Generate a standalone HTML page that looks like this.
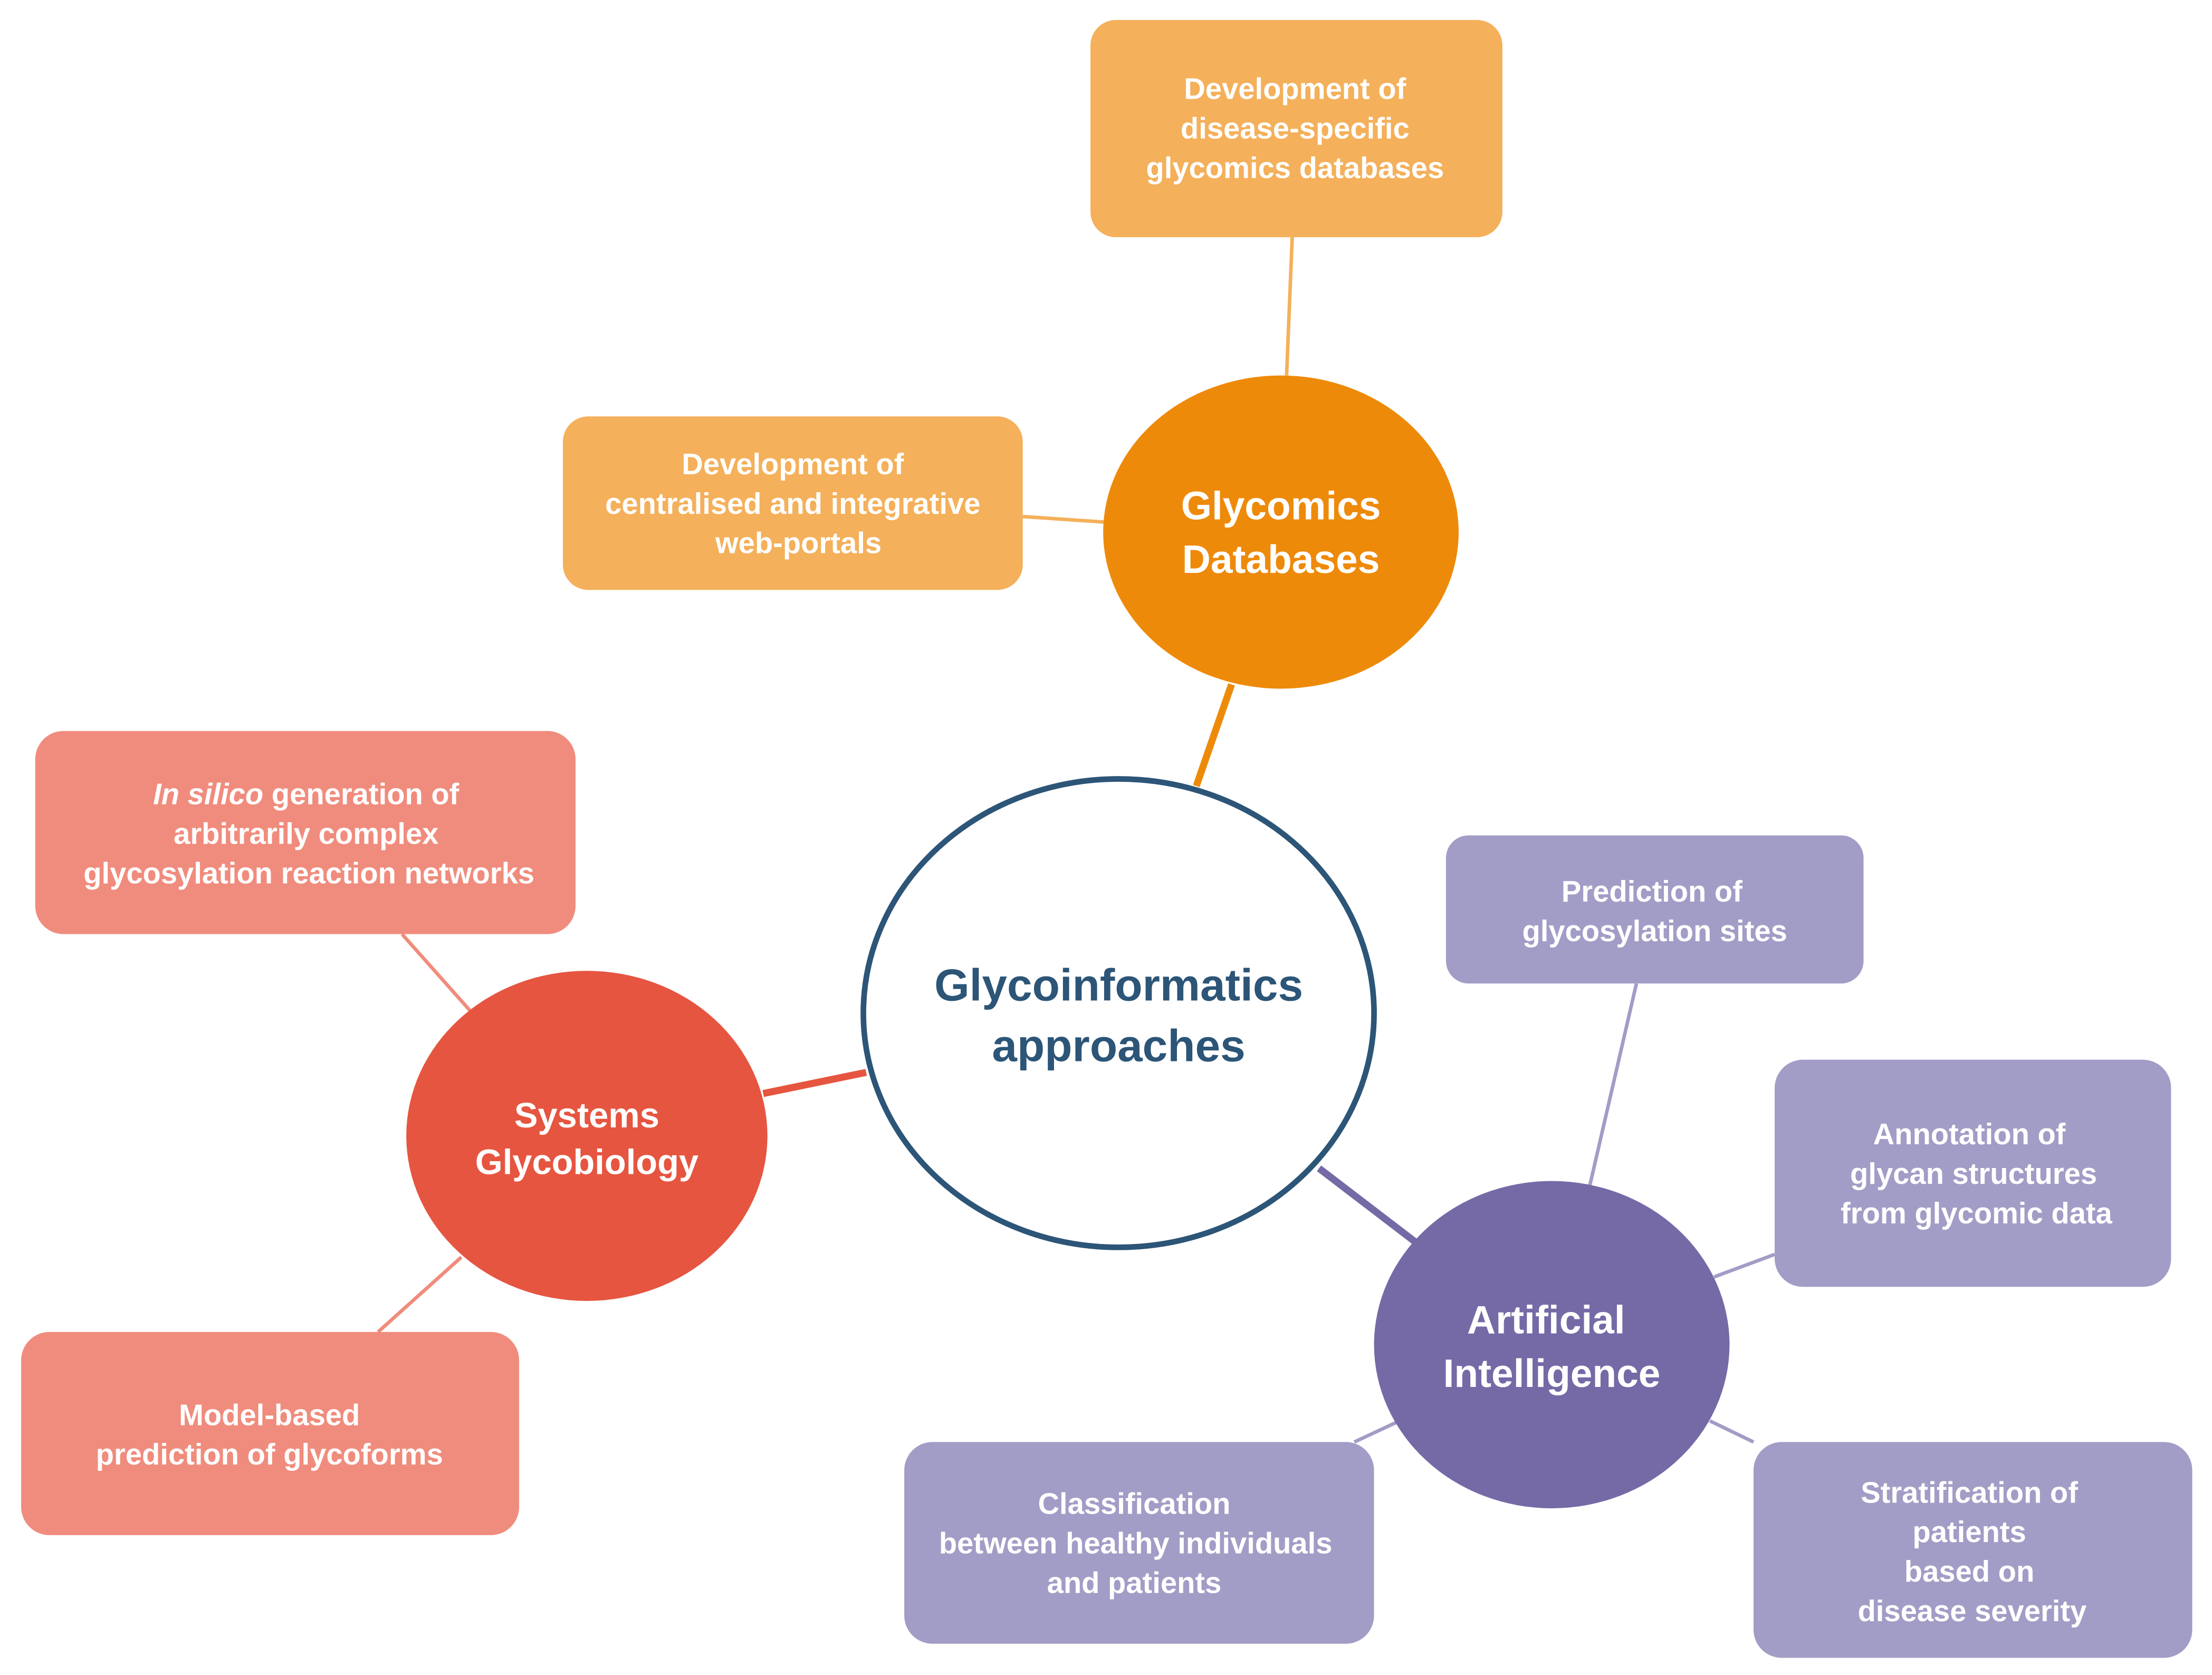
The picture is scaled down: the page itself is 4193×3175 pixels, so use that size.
<!DOCTYPE html>
<html><head><meta charset="utf-8"><style>
html,body{margin:0;padding:0;background:#fff;}
svg{display:block;}
text{font-family:"Liberation Sans",Arial,sans-serif;font-weight:bold;text-anchor:middle;fill:#fff;}
.s{font-size:21px;}
</style></head><body>
<svg width="4193" height="3175" viewBox="0 0 1568 1187" xmlns="http://www.w3.org/2000/svg">
<rect width="1568" height="1187" fill="#fff"/>
<!-- connectors -->
<g stroke-linecap="butt">
<line x1="916" y1="168" x2="912" y2="266" stroke="#F4B05A" stroke-width="2.5"/>
<line x1="725" y1="366" x2="784" y2="370" stroke="#F4B05A" stroke-width="2.5"/>
<line x1="873" y1="485" x2="848" y2="557" stroke="#EE8A0A" stroke-width="5"/>
<line x1="541" y1="775" x2="614" y2="760" stroke="#E65540" stroke-width="5"/>
<line x1="285" y1="662" x2="333" y2="716" stroke="#F08C7D" stroke-width="2.5"/>
<line x1="268" y1="944" x2="327" y2="891" stroke="#F08C7D" stroke-width="2.5"/>
<line x1="935" y1="828" x2="1003" y2="880" stroke="#756AA6" stroke-width="5"/>
<line x1="1160" y1="697" x2="1127" y2="840" stroke="#A29DC6" stroke-width="2.5"/>
<line x1="1215" y1="905" x2="1258" y2="889" stroke="#A29DC6" stroke-width="2.5"/>
<line x1="1212" y1="1007" x2="1243" y2="1022" stroke="#A29DC6" stroke-width="2.5"/>
<line x1="960" y1="1022" x2="990" y2="1008" stroke="#A29DC6" stroke-width="2.5"/>
</g>
<!-- boxes -->
<rect x="773" y="14" width="292" height="154" rx="18" fill="#F4B05A"/>
<text class="s" x="918" y="70">Development of</text>
<text class="s" x="918" y="98">disease-specific</text>
<text class="s" x="918" y="126">glycomics databases</text>

<rect x="399" y="295" width="326" height="123" rx="18" fill="#F4B05A"/>
<text class="s" x="562" y="336">Development of</text>
<text class="s" x="562" y="364">centralised and integrative</text>
<text class="s" x="566" y="392">web-portals</text>

<rect x="25" y="518" width="383" height="144" rx="20" fill="#F08C7D"/>
<text class="s" x="217" y="570"><tspan font-style="italic">In silico</tspan> generation of</text>
<text class="s" x="217" y="598">arbitrarily complex</text>
<text class="s" x="219" y="626">glycosylation reaction networks</text>

<rect x="15" y="944" width="353" height="144" rx="20" fill="#F08C7D"/>
<text class="s" x="191" y="1010">Model-based</text>
<text class="s" x="191" y="1038">prediction of glycoforms</text>

<rect x="1025" y="592" width="296" height="105" rx="16" fill="#A29DC6"/>
<text class="s" x="1171" y="639">Prediction of</text>
<text class="s" x="1173" y="667">glycosylation sites</text>

<rect x="1258" y="751" width="281" height="161" rx="20" fill="#A29DC6"/>
<text class="s" x="1396" y="811">Annotation of</text>
<text class="s" x="1399" y="839">glycan structures</text>
<text class="s" x="1401" y="867">from glycomic data</text>

<rect x="1243" y="1022" width="311" height="153" rx="20" fill="#A29DC6"/>
<text class="s" x="1396" y="1065">Stratification of</text>
<text class="s" x="1396" y="1093">patients</text>
<text class="s" x="1396" y="1121">based on</text>
<text class="s" x="1398" y="1149">disease severity</text>

<rect x="641" y="1022" width="333" height="143" rx="20" fill="#A29DC6"/>
<text class="s" x="804" y="1073">Classification</text>
<text class="s" x="805" y="1101">between healthy individuals</text>
<text class="s" x="804" y="1129">and patients</text>
<!-- ellipses -->
<ellipse cx="908" cy="377" rx="126" ry="111" fill="#EE8A0A"/>
<text x="908" y="368" font-size="28">Glycomics</text>
<text x="908" y="406" font-size="28">Databases</text>

<ellipse cx="793" cy="718" rx="181" ry="166" fill="#fff" stroke="#2C5577" stroke-width="4"/>
<text x="793" y="709" font-size="32" style="fill:#2C5577">Glycoinformatics</text>
<text x="793" y="752" font-size="32" style="fill:#2C5577">approaches</text>

<ellipse cx="416" cy="805" rx="128" ry="117" fill="#E65540"/>
<text x="416" y="799" font-size="25">Systems</text>
<text x="416" y="832" font-size="25">Glycobiology</text>

<ellipse cx="1100" cy="953" rx="126" ry="116" fill="#756AA6"/>
<text x="1096" y="945" font-size="28">Artificial</text>
<text x="1100" y="983" font-size="28">Intelligence</text>
</svg>
</body></html>
